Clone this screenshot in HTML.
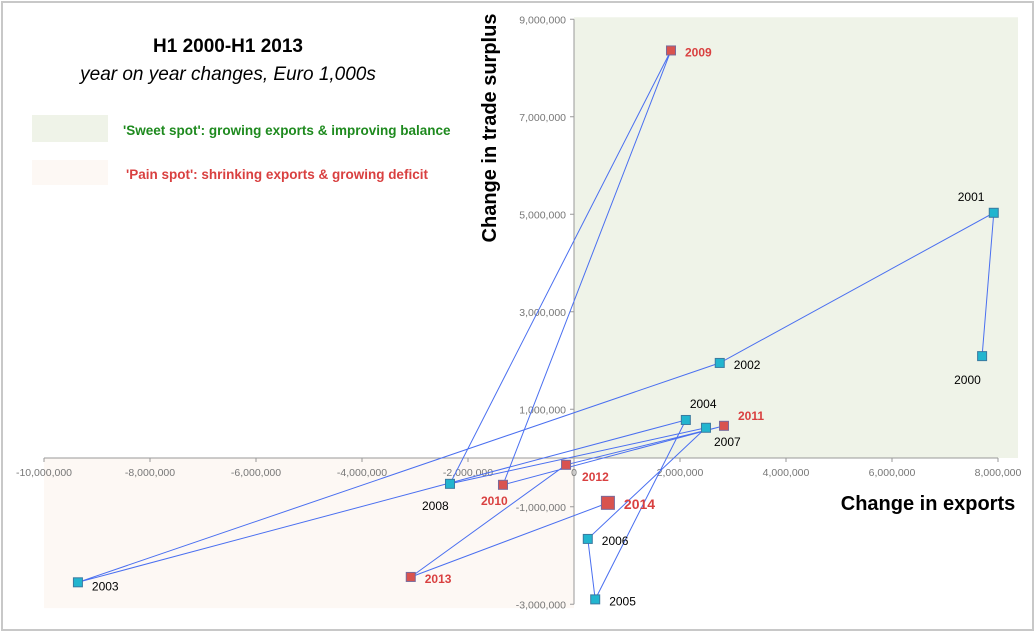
<!DOCTYPE html>
<html><head><meta charset="utf-8"><style>
html,body{margin:0;padding:0;background:#fff}
svg{display:block;font-family:"Liberation Sans",sans-serif}
</style></head><body>
<svg id="chart" width="1036" height="634" viewBox="0 0 1036 634">
<rect x="2" y="2" width="1031" height="628" fill="#fff" stroke="#c8c8c8" stroke-width="2"/>
<g id="regions"></g>
<text x="228" y="52" font-size="19" font-weight="bold" text-anchor="middle">H1 2000-H1 2013</text>
<text x="228" y="80" font-size="19" font-style="italic" text-anchor="middle">year on year changes, Euro 1,000s</text>
<rect x="32" y="115" width="76" height="27" fill="#eff3e8"/>
<text x="123" y="135" font-size="13.5" font-weight="bold" fill="#1e8a1e">'Sweet spot': growing exports &amp; improving balance</text>
<rect x="32" y="160" width="76" height="25" fill="#fdf8f4"/>
<text x="126" y="179" font-size="13.5" font-weight="bold" fill="#d94040">'Pain spot': shrinking exports &amp; growing deficit</text>
<g id="axes"></g>
<g id="series"></g>
<text x="496" y="128" font-size="20" font-weight="bold" text-anchor="middle" transform="rotate(-90 496 128)">Change in trade surplus</text>
<text x="928" y="510" font-size="20" font-weight="bold" text-anchor="middle">Change in exports</text>
</svg>
<script>
const years=["2000","2001","2002","2003","2004","2005","2006","2007","2008","2009","2010","2011","2012","2013","2014"];
const exportsChange=[7700000,7920000,2750000,-9360000,2110000,400000,260000,2490000,-2340000,1830000,-1340000,2830000,-150000,-3080000,640000];
const surplusChange=[2090000,5030000,1950000,-2550000,780000,-2900000,-1660000,620000,-530000,8360000,-550000,660000,-140000,-2440000,-920000];
const highlight=[0,0,0,0,0,0,0,0,0,1,1,1,1,1,1];
const xTicks=[-10000000,-8000000,-6000000,-4000000,-2000000,0,2000000,4000000,6000000,8000000];
const yTicks=[-3000000,-1000000,1000000,3000000,5000000,7000000,9000000];
const X=v=>574+v*(530/10000000);
const Y=v=>458-v*(48.75/1000000);
const NS="http://www.w3.org/2000/svg";
function mk(tag,attrs,parent,text){const e=document.createElementNS(NS,tag);for(const k in attrs)e.setAttribute(k,attrs[k]);if(text!==undefined)e.textContent=text;parent.appendChild(e);return e;}
const fmt=v=>v.toLocaleString("en-US");
const reg=document.getElementById("regions");
let g=mk("rect",{x:X(0),y:Y(9000000)-2,width:1018-X(0),height:Y(0)-Y(9000000)+2,fill:"#eff3e8"},reg);


let p=mk("rect",{x:X(-10000000),y:Y(0),width:X(0)-X(-10000000),height:Y(-3080000)-Y(0),fill:"#fdf8f4"},reg);


const ax=document.getElementById("axes");
let xl=mk("line",{x1:X(-10000000),x2:X(8000000),y1:Y(0),y2:Y(0),stroke:"#999"},ax);


let yl=mk("line",{x1:X(0),x2:X(0),y1:Y(9000000),y2:Y(-3000000),stroke:"#999"},ax);


xTicks.forEach(v=>{
 mk("line",{x1:X(v),x2:X(v),y1:Y(0),y2:Y(0)+4,stroke:"#999"},ax);
 const t=mk("text",{x:X(v)+(v===0?0:0),y:Y(0)+18,"font-size":"10.5",fill:"#777","text-anchor":"middle"},ax,fmt(v));
 
 
});
yTicks.forEach(v=>{
 mk("line",{x1:X(0)-4,x2:X(0),y1:Y(v),y2:Y(v),stroke:"#999"},ax);
 const t=mk("text",{x:X(0)-8,y:Y(v)+4,"font-size":"10.5",fill:"#777","text-anchor":"end"},ax,fmt(v));
 
 
});
const s=document.getElementById("series");
const pts=years.map((y,i)=>X(exportsChange[i]).toFixed(1)+","+Y(surplusChange[i]).toFixed(1)).join(" ");
const line=mk("polyline",{points:pts,fill:"none",stroke:"#4a6ff0","stroke-width":"1"},s);


const off={"2000":[-28,28],"2001":[-36,-12],"2002":[14,6],"2003":[14,8],"2004":[4,-12],"2005":[14,6],"2006":[14,6],"2007":[8,18],"2008":[-28,26],"2009":[14,6],"2010":[-22,20],"2011":[14,-6],"2012":[16,16],"2013":[14,6],"2014":[16,6]};
years.forEach((y,i)=>{
 const cx=X(exportsChange[i]),cy=Y(surplusChange[i]);
 const sz=i===14?13:9;
 const m=mk("rect",{x:cx-sz/2,y:cy-sz/2,width:sz,height:sz,fill:highlight[i]?"#d9534f":"#22b5cf",stroke:highlight[i]?"#7a6a9a":"#3a7aa0","stroke-width":"1"},s);
 
 
 const o=off[y];
 const t=mk("text",{x:cx+o[0],y:cy+o[1],"font-size":highlight[i]?(i===14?"14":"12"):"12","font-weight":highlight[i]?"bold":"normal",fill:highlight[i]?"#d94040":"#000"},s,y);
 
 
});
</script>
</body></html>
